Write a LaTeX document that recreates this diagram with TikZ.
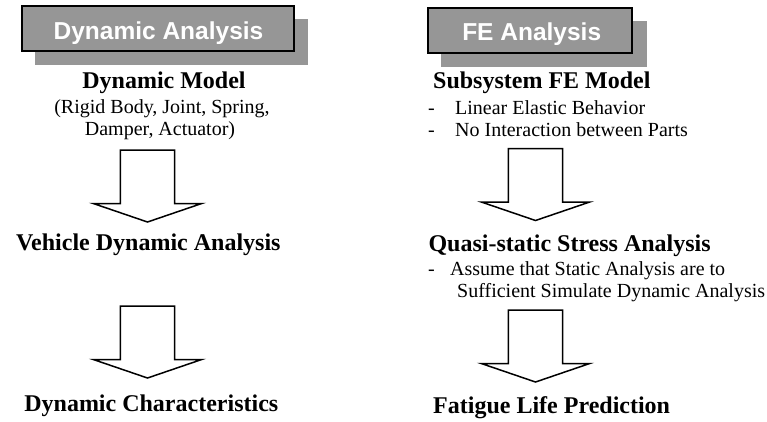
\documentclass[tikz,border=0pt]{standalone}
\usepackage{fontspec}
\setmainfont{Liberation Serif}
\newfontfamily\hdrfont{Liberation Sans}
\definecolor{boxgray}{HTML}{969696}
\begin{document}
\begin{tikzpicture}[x=1pt,y=-1pt,
  shadowbox/.style={fill=boxgray, draw=none, inner sep=0, anchor=north west},
  hdrbox/.style={draw=black, line width=2pt, fill=boxgray, inner sep=0, anchor=north west},
  hdrtext/.style={text=white, font=\hdrfont\bfseries\fontsize{24.5}{27}\selectfont, inner sep=0, anchor=base},
  titletext/.style={font=\bfseries\fontsize{24}{28}\selectfont, inner sep=0},
  bodytext/.style={font=\fontsize{20}{22}\selectfont, inner sep=0},
  blockarrow/.style={draw=black, line width=1.5pt, fill=white, line join=miter},
  pics/blockarr/.style={code={
    \draw[blockarrow] (-27.2,0) -- (27.2,0) -- (27.2,53.5) -- (54.2,53.5) -- (0,72) -- (-54.2,53.5) -- (-27.2,53.5) -- cycle;}}]

\useasboundingbox (0,0) rectangle (767,421);

% ---------- left header ----------
\node[shadowbox, minimum width=273pt, minimum height=46pt] (lsh) at (35,19) {};
\node[hdrbox, minimum width=272pt, minimum height=45pt] (lbox) at (21,5) {};
\begin{scope}
  \clip (21,5) rectangle (293,43);
  \node[hdrtext] (lht) at (158.5,39.5) {Dynamic Analysis};
\end{scope}

% ---------- right header ----------
\node[shadowbox, minimum width=206pt, minimum height=46pt] (rsh) at (441,21) {};
\node[hdrbox, minimum width=204pt, minimum height=45pt] (rbox) at (427,7) {};
\begin{scope}
  \clip (427,7) rectangle (631,44);
  \node[hdrtext] (rht) at (531.7,40.5) {FE Analysis};
\end{scope}

% ---------- left column ----------
\node[titletext, anchor=base] (dm) at (164,88) {Dynamic Model};
\node[bodytext, anchor=base] (rb) at (162,113) {(Rigid Body, Joint, Spring,};
\node[bodytext, anchor=base] (dmp) at (160,135) {Damper, Actuator)};
\pic (la1) at (147.5,150) {blockarr};
\node[titletext, anchor=base] (vda) at (148.3,250) {Vehicle Dynamic Analysis};
\pic (la2) at (147.5,306) {blockarr};
\node[titletext, anchor=base] (dch) at (151.3,411.7) {Dynamic Characteristics};

% ---------- right column ----------
\node[titletext, anchor=base west] (sfe) at (433,88) {Subsystem FE Model};
\node[bodytext, anchor=base west] (d1) at (428,114) {-};
\node[bodytext, anchor=base west] (b1) at (455,114) {Linear Elastic Behavior};
\node[bodytext, anchor=base west] (d2) at (428,136) {-};
\node[bodytext, anchor=base west] (b2) at (455,136) {No Interaction between Parts};
\pic (ra1) at (535.5,148.5) {blockarr};
\node[titletext, anchor=base west] (qs) at (428.3,251) {Quasi-static Stress Analysis};
\node[bodytext, anchor=base west] (d3) at (428,275) {-};
\node[bodytext, anchor=base west] (b3) at (450,275) {Assume that Static Analysis are to};
\node[bodytext, anchor=base west] (b4) at (457,297) {Sufficient Simulate Dynamic Analysis};
\pic (ra2) at (535.5,310) {blockarr};
\node[titletext, anchor=base west] (flp) at (433,413) {Fatigue Life Prediction};
\end{tikzpicture}
\end{document}
